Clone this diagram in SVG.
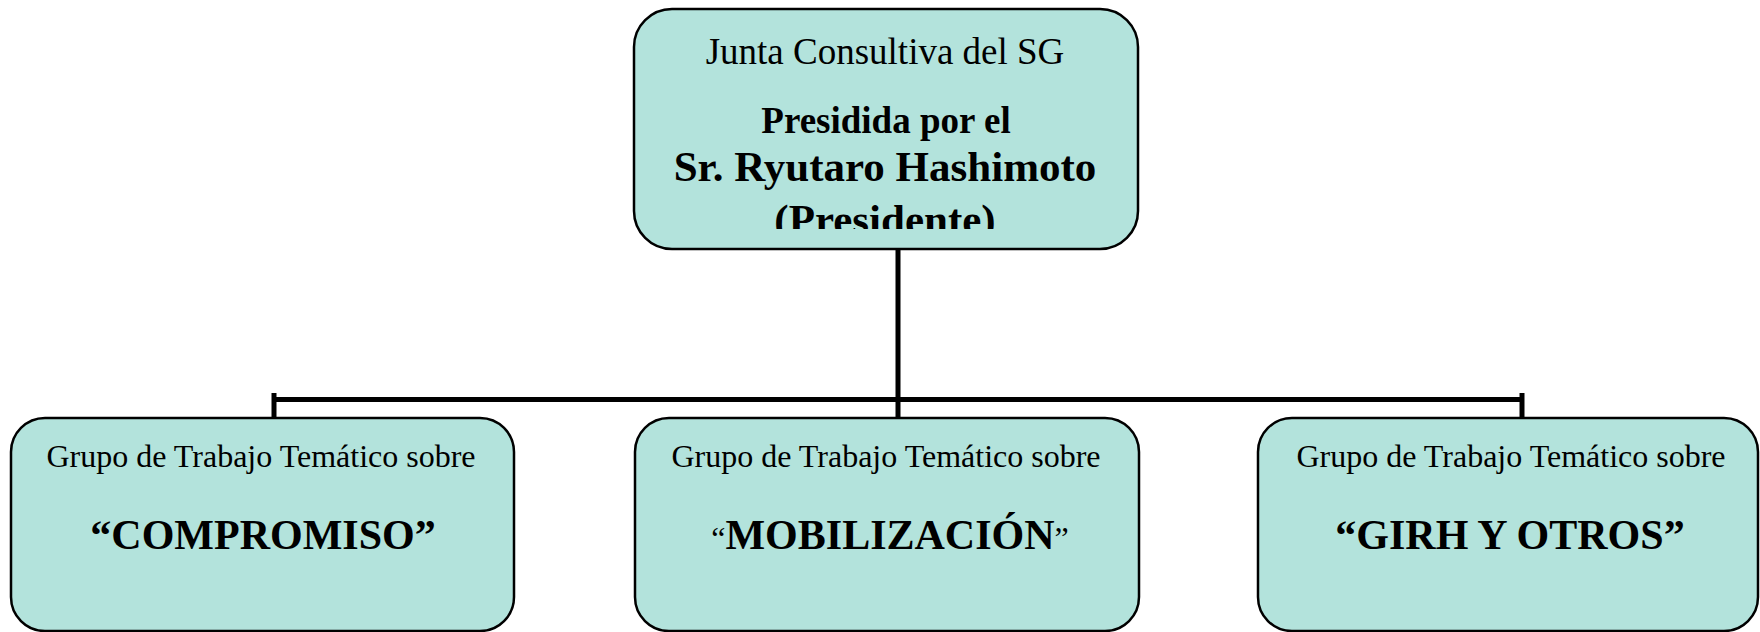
<svg xmlns="http://www.w3.org/2000/svg" width="1760" height="632" viewBox="0 0 1760 632">
<style>
.box{fill:#b3e3dc;stroke:#000;stroke-width:2.5}
.t{font-family:"Liberation Serif","Times New Roman",serif;fill:#000;text-anchor:middle}
.b{font-weight:bold}
.con{stroke:#000;stroke-width:5;fill:none}
</style>
<defs>
<clipPath id="clipTop"><rect x="634" y="9" width="504" height="220"/></clipPath>
</defs>
<rect width="1760" height="632" fill="#fff"/>
<g id="connectors">
<line class="con" x1="898" y1="249" x2="898" y2="418"/>
<line class="con" x1="272" y1="399.5" x2="1524" y2="399.5"/>
<line class="con" x1="274" y1="393" x2="274" y2="418"/>
<line class="con" x1="1522" y1="393" x2="1522" y2="418"/>
</g>
<g id="node-junta">
<rect class="box" x="634" y="9" width="504" height="240" rx="38" ry="38"/>
<text class="t" x="885" y="64" font-size="37">Junta Consultiva del SG</text>
<text class="t b" x="886" y="133" font-size="37">Presidida por el</text>
<text class="t b" x="885" y="181" font-size="43">Sr. Ryutaro Hashimoto</text>
<g clip-path="url(#clipTop)"><text class="t b" x="885" y="234" font-size="43">(Presidente)</text></g>
</g>
<g id="node-compromiso">
<rect class="box" x="11" y="418" width="503" height="213" rx="34" ry="34"/>
<text class="t" x="261" y="467" font-size="32">Grupo de Trabajo Temático sobre</text>
<text class="t b" x="263" y="549" font-size="42">“COMPROMISO”</text>
</g>
<g id="node-movilizacion">
<rect class="box" x="635" y="418" width="504" height="213" rx="34" ry="34"/>
<text class="t" x="886" y="467" font-size="32">Grupo de Trabajo Temático sobre</text>
<text class="t" x="890" y="549" font-size="42"><tspan font-size="32">“</tspan><tspan class="b">MOBILIZACIÓN</tspan><tspan font-size="32">”</tspan></text>
</g>
<g id="node-girh">
<rect class="box" x="1258" y="418" width="500" height="213" rx="34" ry="34"/>
<text class="t" x="1511" y="467" font-size="32">Grupo de Trabajo Temático sobre</text>
<text class="t b" x="1510" y="549" font-size="42">“GIRH Y OTROS”</text>
</g>
</svg>
